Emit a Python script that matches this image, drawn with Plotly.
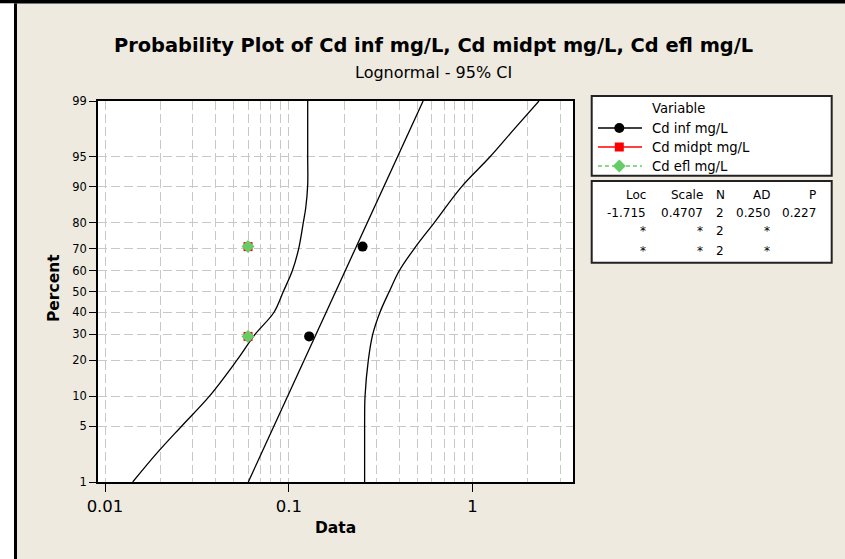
import plotly.graph_objects as go
from statistics import NormalDist

# ---------------- data ----------------
inf_x = [0.129, 0.252]
inf_pct = [29.17, 70.83]
midpt_x = [0.06, 0.06]
midpt_pct = [29.17, 70.83]
efl_x = [0.06, 0.06]
efl_pct = [29.17, 70.83]

# fitted lognormal line (Loc -1.715, Scale 0.4707), read at 1% and 99%
fit_x = [0.0602, 0.538]
fit_pct = [1, 99]

# 95% confidence bands
ci_lo_x = [0.1267, 0.1267, 0.1267, 0.1236, 0.1199, 0.1132, 0.1045, 0.0934,
           0.0831, 0.0655, 0.0521, 0.0369, 0.0261, 0.0191, 0.01415]
ci_lo_pct = [99, 95, 90.4, 84.6, 80, 70, 60, 50,
             40, 30, 20, 10, 5, 2.4, 1]
ci_hi_x = [2.297, 1.701, 1.244, 0.8724, 0.6189, 0.4817, 0.3990, 0.3521,
           0.3134, 0.2861, 0.2707, 0.2598, 0.2585, 0.2585]
ci_hi_pct = [99, 97.7, 95, 90, 80, 70, 60, 50,
             40, 30, 20, 10, 5, 1]

ytick_pct = [1, 5, 10, 20, 30, 40, 50, 60, 70, 80, 90, 95, 99]
xtick_vals = [0.01, 0.1, 1]
xtick_text = ["0.01", "0.1", "1"]
xminor_vals = [0.02, 0.03, 0.04, 0.05, 0.06, 0.07, 0.08, 0.09,
               0.2, 0.3, 0.4, 0.5, 0.6, 0.7, 0.8, 0.9, 2, 3]

series_names = ["Cd inf mg/L", "Cd midpt mg/L", "Cd efl mg/L"]
stats_cols = ["Loc", "Scale", "N", "AD", "P"]
stats_rows = [["-1.715", "0.4707", "2", "0.250", "0.227"],
              ["*", "*", "2", "*", ""],
              ["*", "*", "2", "*", ""]]

title_text = "Probability Plot of Cd inf mg/L, Cd midpt mg/L, Cd efl mg/L"
subtitle_text = "Lognormal - 95% CI"

# ---------------- helpers ----------------
ND = NormalDist()


def z(p_list):
    return [ND.inv_cdf(p / 100.0) for p in p_list]


W, H = 845, 559
ML, MR, MT, MB = 98, 272, 101, 77
PW, PH = W - ML - MR, H - MT - MB


def px(x):
    return (x - ML) / PW


def py(y):
    return (H - MB - y) / PH


FONT = "DejaVu Sans"
GREEN = "#66CC66"
GRID = "#C8C8C8"

fig = go.Figure()

# CI bands and fit line
for xs, ps, shp in [(ci_lo_x, ci_lo_pct, "spline"), (ci_hi_x, ci_hi_pct, "spline"),
                    (fit_x, fit_pct, "linear")]:
    fig.add_trace(go.Scatter(x=xs, y=z(ps), mode="lines",
                             line=dict(color="black", width=1.3, shape=shp, smoothing=1.0),
                             hoverinfo="skip", showlegend=False))

fig.add_trace(go.Scatter(x=inf_x, y=z(inf_pct), mode="markers", name=series_names[0],
                         marker=dict(symbol="circle", size=10, color="black"),
                         showlegend=False))
fig.add_trace(go.Scatter(x=midpt_x, y=z(midpt_pct), mode="markers", name=series_names[1],
                         marker=dict(symbol="square", size=9, color="#FF0000"),
                         showlegend=False))
fig.add_trace(go.Scatter(x=efl_x, y=z(efl_pct), mode="markers", name=series_names[2],
                         marker=dict(symbol="diamond", size=10, color=GREEN),
                         showlegend=False))

zr = ND.inv_cdf(0.99)
fig.update_layout(
    width=W, height=H,
    margin=dict(l=ML, r=MR, t=MT, b=MB, pad=0),
    paper_bgcolor="#EEEAE0", plot_bgcolor="white",
    showlegend=False,
    font=dict(family=FONT, color="black"),
)
fig.update_xaxes(
    type="log", range=[-2.0381, 0.5462],
    tickmode="array", tickvals=xtick_vals, ticktext=xtick_text,
    ticks="outside", ticklen=8, tickwidth=1.2, tickcolor="black",
    showline=True, linecolor="black", linewidth=1.5, mirror=True,
    showgrid=True, gridcolor=GRID, gridwidth=1, griddash="9px,4px",
    tickfont=dict(family=FONT, size=16.5, color="black"),
    minor=dict(tickmode="array", tickvals=xminor_vals, showgrid=True,
               gridcolor=GRID, gridwidth=1, griddash="9px,4px", ticks=""),
    zeroline=False,
)
fig.update_yaxes(
    range=[-zr, zr],
    tickmode="array", tickvals=z(ytick_pct), ticktext=[str(p) for p in ytick_pct],
    ticks="outside", ticklen=7, tickwidth=1.2, tickcolor="black",
    showline=True, linecolor="black", linewidth=1.5, mirror=True,
    showgrid=True, gridcolor=GRID, gridwidth=1, griddash="9px,4px",
    tickfont=dict(family=FONT, size=11.5, color="black"),
    zeroline=False,
)

shapes = []
# window frame
shapes.append(dict(type="rect", xref="paper", yref="paper", x0=px(0), x1=px(W), y0=py(0), y1=py(3.5),
                   fillcolor="black", line=dict(width=0), layer="above"))
shapes.append(dict(type="rect", xref="paper", yref="paper", x0=px(0), x1=px(14), y0=py(3.5), y1=py(H),
                   fillcolor="white", line=dict(width=0), layer="above"))
shapes.append(dict(type="rect", xref="paper", yref="paper", x0=px(14), x1=px(17), y0=py(3.5), y1=py(H),
                   fillcolor="black", line=dict(width=0), layer="above"))
# legend boxes
for y0, y1 in [(96, 175.7), (181, 262.7)]:
    shapes.append(dict(type="rect", xref="paper", yref="paper", x0=px(591.7), x1=px(831.7),
                       y0=py(y0), y1=py(y1), fillcolor="white",
                       line=dict(color="#222222", width=2), layer="above"))
# legend samples
ly = [128, 147, 166]
shapes.append(dict(type="line", xref="paper", yref="paper", x0=px(598), x1=px(642), y0=py(ly[0]), y1=py(ly[0]),
                   line=dict(color="black", width=1.3), layer="above"))
shapes.append(dict(type="line", xref="paper", yref="paper", x0=px(598), x1=px(642), y0=py(ly[1]), y1=py(ly[1]),
                   line=dict(color="#FF0000", width=1.3), layer="above"))
shapes.append(dict(type="line", xref="paper", yref="paper", x0=px(598), x1=px(642), y0=py(ly[2]), y1=py(ly[2]),
                   line=dict(color=GREEN, width=1.3, dash="4px,3px"), layer="above"))
mx = 619.3
shapes.append(dict(type="circle", xref="paper", yref="paper", x0=px(mx - 5), x1=px(mx + 5),
                   y0=py(ly[0] + 5), y1=py(ly[0] - 5), fillcolor="black", line=dict(width=0), layer="above"))
shapes.append(dict(type="rect", xref="paper", yref="paper", x0=px(mx - 4.5), x1=px(mx + 4.5),
                   y0=py(ly[1] + 4.5), y1=py(ly[1] - 4.5), fillcolor="#FF0000", line=dict(width=0), layer="above"))
d = 6.5
path = "M{},{} L{},{} L{},{} L{},{} Z".format(px(mx), py(ly[2] - d), px(mx + d), py(ly[2]),
                                            px(mx), py(ly[2] + d), px(mx - d), py(ly[2]))
shapes.append(dict(type="path", xref="paper", yref="paper", path=path, fillcolor=GREEN,
                   line=dict(width=0), layer="above"))
fig.update_layout(shapes=shapes)

ann = []


def add_text(text, x, y, size, xanchor="center", bold=False, angle=0):
    ann.append(dict(text=("<b>%s</b>" % text) if bold else text, x=px(x), y=py(y),
                    xref="paper", yref="paper", xanchor=xanchor, yanchor="middle",
                    showarrow=False, textangle=angle,
                    font=dict(family=FONT, size=size, color="black")))


add_text(title_text, 433, 46, 19.4, bold=True)
add_text(subtitle_text, 433, 72, 16)
add_text("Percent", 54, 288, 15.5, bold=True, angle=-90)
add_text("Data", 335, 528, 15.5, bold=True)

add_text("Variable", 650, 108, 13.2, xanchor="left")
for name, yy in zip(series_names, ly):
    add_text(name, 650, yy, 13.2, xanchor="left")

col_x = [648.3, 705, 720, 771.7, 817.7]
col_anchor = ["right", "right", "center", "right", "right"]
row_y = [195, 213.3, 231.5, 250.5]
for cx, ca, label in zip(col_x, col_anchor, stats_cols):
    add_text(label, cx, row_y[0], 12, xanchor=ca)
for r, row in enumerate(stats_rows):
    for cx, ca, val in zip(col_x, col_anchor, row):
        if val:
            add_text(val, cx, row_y[r + 1], 12, xanchor=ca)

fig.update_layout(annotations=ann)
fig.write_html("out.html", config={"displayModeBar": False},
               post_script="document.body.style.margin='0';document.body.style.overflow='hidden';")
